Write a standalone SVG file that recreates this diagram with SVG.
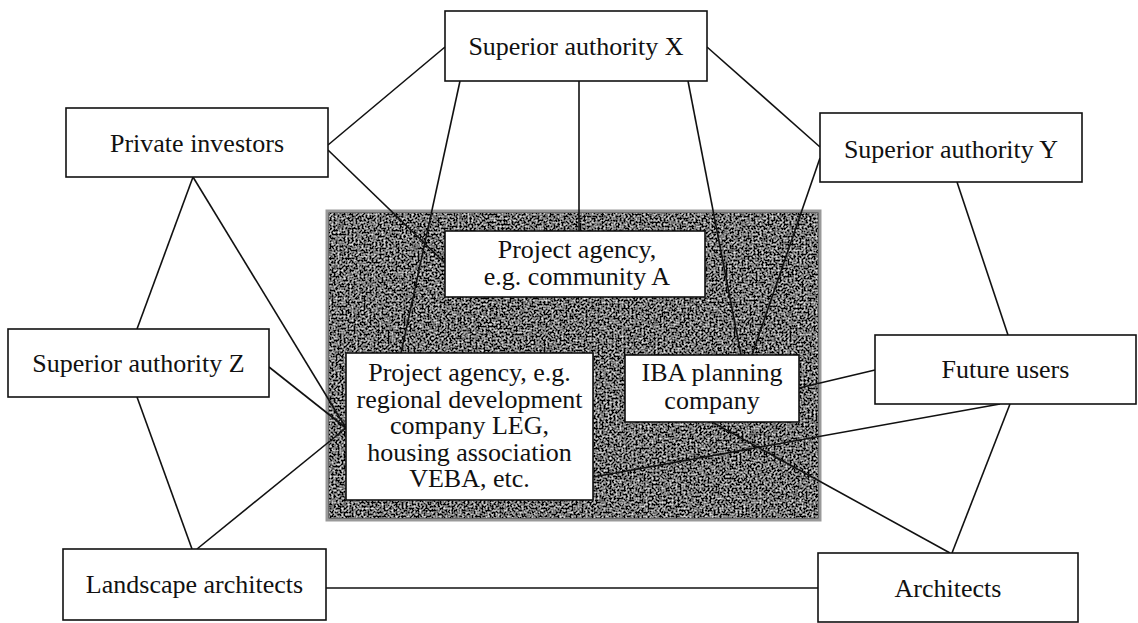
<svg xmlns="http://www.w3.org/2000/svg" width="1138" height="623" viewBox="0 0 1138 623">
  <defs>
    <filter id="grain" x="0" y="0" width="1" height="1">
      <feTurbulence type="fractalNoise" baseFrequency="0.5" numOctaves="3" seed="11"/>
      <feColorMatrix type="saturate" values="0"/>
      <feComponentTransfer>
        <feFuncR type="linear" slope="2.6" intercept="-1.12"/>
        <feFuncG type="linear" slope="2.6" intercept="-1.12"/>
        <feFuncB type="linear" slope="2.6" intercept="-1.12"/>
        <feFuncA type="table" tableValues="1 1"/>
      </feComponentTransfer>
      <feComposite in2="SourceGraphic" operator="in"/>
    </filter>
    <style>
      .box { fill: #ffffff; stroke: #111111; stroke-width: 1.6; }
      .lbl { font-family: "Liberation Serif", "Times New Roman", serif; font-size: 26px; fill: #111111; text-anchor: middle; }
      .con { stroke: #111111; stroke-width: 1.6; fill: none; }
    </style>
  </defs>
  <rect width="1138" height="623" fill="#ffffff"/>

  <g id="core-area">
    <rect x="327" y="211" width="493" height="309" fill="#3c3c3c" stroke="#999999" stroke-width="3"/>
    <rect x="329" y="213" width="489" height="305" fill="#3c3c3c" filter="url(#grain)"/>
  </g>

  <g id="connectors">
    <path class="con" d="M328,145 L445,47"/>
    <path class="con" d="M328,150 L445,263"/>
    <path class="con" d="M460,81 L401,353"/>
    <path class="con" d="M579,81 L579,231"/>
    <path class="con" d="M688,81 L741,355"/>
    <path class="con" d="M707,47 L820,147"/>
    <path class="con" d="M820,158 L752,355"/>
    <path class="con" d="M957,182 L1008,335"/>
    <path class="con" d="M193,177 L137,329"/>
    <path class="con" d="M193,177 L346,428"/>
    <path class="con" d="M269,367 L346,428"/>
    <path class="con" d="M197,549 L346,428"/>
    <path class="con" d="M137,397 L192,549"/>
    <path class="con" d="M326,588 L818,588"/>
    <path class="con" d="M875,370 L799,388"/>
    <path class="con" d="M1000,404 L593,477"/>
    <path class="con" d="M1010,404 L952,553"/>
    <path class="con" d="M950,553 L712,422"/>
  </g>

  <g id="superior-authority-x">
    <rect class="box" x="445" y="11" width="262" height="70"/>
    <text class="lbl" x="576" y="55">Superior authority X</text>
  </g>
  <g id="private-investors">
    <rect class="box" x="66" y="108" width="262" height="69"/>
    <text class="lbl" x="197" y="152">Private investors</text>
  </g>
  <g id="superior-authority-y">
    <rect class="box" x="820" y="113" width="262" height="69"/>
    <text class="lbl" x="951" y="158">Superior authority Y</text>
  </g>
  <g id="project-agency-a">
    <rect class="box" x="445" y="231" width="260" height="66"/>
    <text class="lbl" x="577" y="258">Project agency,</text>
    <text class="lbl" x="577" y="285">e.g. community A</text>
  </g>
  <g id="project-agency-leg">
    <rect class="box" x="346" y="353" width="247" height="147"/>
    <text class="lbl" x="469.5" y="381">Project agency, e.g.</text>
    <text class="lbl" x="469.5" y="407.5">regional development</text>
    <text class="lbl" x="469.5" y="434">company LEG,</text>
    <text class="lbl" x="469.5" y="460.5">housing association</text>
    <text class="lbl" x="469.5" y="487">VEBA, etc.</text>
  </g>
  <g id="iba-planning">
    <rect class="box" x="625" y="355" width="174" height="67"/>
    <text class="lbl" x="712" y="380.5">IBA planning</text>
    <text class="lbl" x="712" y="408.5">company</text>
  </g>
  <g id="superior-authority-z">
    <rect class="box" x="8" y="329" width="261" height="68"/>
    <text class="lbl" x="138.5" y="372">Superior authority Z</text>
  </g>
  <g id="future-users">
    <rect class="box" x="875" y="335" width="261" height="69"/>
    <text class="lbl" x="1005.5" y="378">Future users</text>
  </g>
  <g id="landscape-architects">
    <rect class="box" x="63" y="549" width="263" height="71"/>
    <text class="lbl" x="194.5" y="593">Landscape architects</text>
  </g>
  <g id="architects">
    <rect class="box" x="818" y="553" width="260" height="69"/>
    <text class="lbl" x="948" y="597">Architects</text>
  </g>
</svg>
